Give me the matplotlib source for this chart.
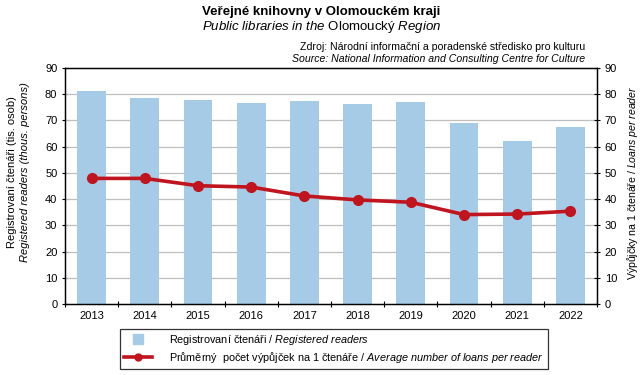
import matplotlib
matplotlib.use("Agg")
import matplotlib.pyplot as plt
from matplotlib.lines import Line2D
import numpy as np

plt.rcParams['font.family'] = ['Liberation Sans', 'DejaVu Sans']
plt.rcParams['mathtext.fontset'] = 'custom'
plt.rcParams['mathtext.rm'] = 'Liberation Sans'
plt.rcParams['mathtext.it'] = 'Liberation Sans:italic'

# data
years = ['2013', '2014', '2015', '2016', '2017', '2018', '2019', '2020', '2021', '2022']
readers = [81.2, 78.7, 77.9, 76.8, 77.5, 76.4, 77.1, 69.1, 62.3, 67.6]
loans = [47.9, 47.9, 45.1, 44.6, 41.2, 39.7, 38.8, 34.1, 34.3, 35.4]

bar_color = '#A6CBE6'
line_color = '#C0141E'

fig = plt.figure(figsize=(6.43, 3.75), dpi=100)
ax = fig.add_axes([65 / 643, 71 / 375, 532 / 643, 236 / 375])
ax2 = ax.twinx()

x = np.arange(len(years))
ax.bar(x, readers, width=0.54, color=bar_color, zorder=2)
ax2.plot(x, loans, color=line_color, lw=2.6, marker='o', ms=7, zorder=3)

for a in (ax, ax2):
    a.set_ylim(0, 90)
    a.set_yticks(range(0, 91, 10))
    a.tick_params(axis='y', labelsize=8, length=4, width=0.8, direction='inout')
ax.set_xlim(-0.5, len(years) - 0.5)
ax.set_xticks(x)
ax.set_xticklabels(years)
ax.set_xticks(np.arange(-0.5, len(years), 1), minor=True)
ax.tick_params(axis='x', which='major', length=0, labelsize=8, pad=5)
ax.tick_params(axis='x', which='minor', length=4, width=0.8, direction='inout')
ax.set_axisbelow(True)
for yv in range(10, 90, 10):
    ax.axhline(yv, color='#BEBEBE', lw=0.9, zorder=1)
for a in (ax, ax2):
    for s in a.spines.values():
        s.set_linewidth(0.9)

# titles
fig.text(0.5, 1 - 12 / 375, 'Veřejné knihovny v Olomouckém kraji', ha='center', va='center',
         fontsize=9.5, fontweight='bold')
fig.text(0.5, 1 - 27 / 375,
         r'$\mathit{Public\ libraries\ in\ the}$ Olomoucký $\mathit{Region}$',
         ha='center', va='center', fontsize=9.5)
fig.text(585 / 643, 1 - 47 / 375, 'Zdroj: Národní informační a poradenské středisko pro kulturu',
         ha='right', va='center', fontsize=7.6)
fig.text(585 / 643, 1 - 59 / 375, 'Source: National Information and Consulting Centre for Culture',
         ha='right', va='center', fontsize=7.6, style='italic')

# axis labels
fig.text(12 / 643, 1 - 172 / 375, 'Registrovaní čtenáři (tis. osob)', rotation=90,
         ha='center', va='center', fontsize=8)
fig.text(25 / 643, 1 - 172 / 375, 'Registered readers (thous. persons)', rotation=90,
         ha='center', va='center', fontsize=8, style='italic')
fig.text(632 / 643, 1 - 183 / 375,
         r'Výpůjčky na 1 čtenáře / $\mathit{Loans\ per\ reader}$', rotation=90,
         ha='center', va='center', fontsize=7.6)

# legend
handles = [
    Line2D([], [], ls='none', marker='s', ms=7, color=bar_color),
    Line2D([], [], color=line_color, lw=2.6, marker='o', ms=5),
]
labels = [
    r'Registrovaní čtenáři / $\mathit{Registered\ readers}$',
    r'Průměrný  počet výpůjček na 1 čtenáře / $\mathit{Average\ number\ of\ loans\ per\ reader}$',
]
leg = fig.legend(handles, labels, loc='center', bbox_to_anchor=(334 / 643, 1 - 349 / 375),
                 fontsize=7.8, frameon=True, fancybox=False, edgecolor='black',
                 handlelength=2.6, handletextpad=1.6, borderpad=0.4, labelspacing=0.3)
leg.get_frame().set_linewidth(0.9)

fig.savefig('out.png', dpi=100)
